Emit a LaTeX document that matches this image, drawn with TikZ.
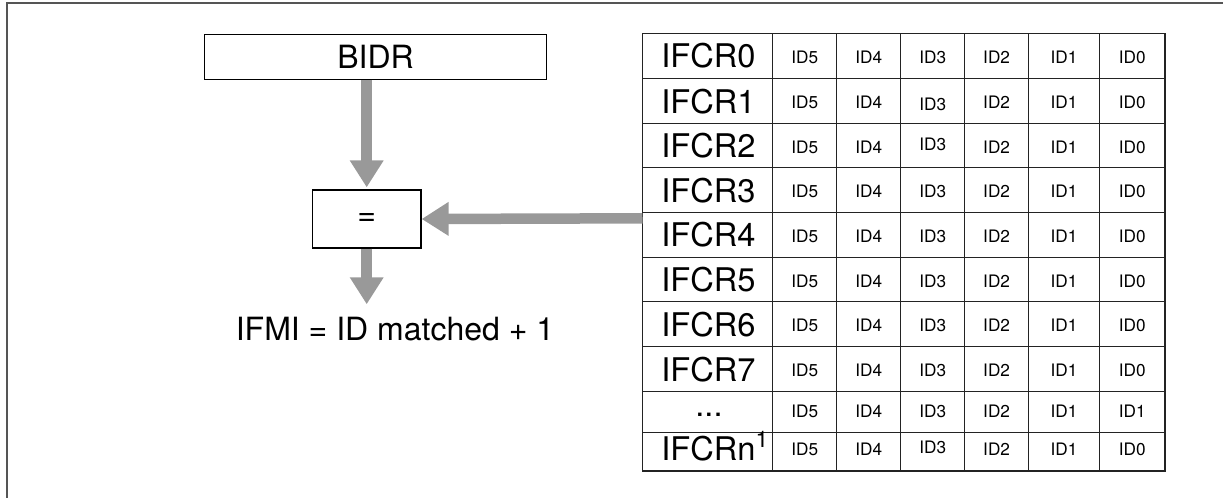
\documentclass[tikz,border=0pt]{standalone}
\usepackage{fontspec}
\setmainfont{TeX Gyre Heros}
\usetikzlibrary{arrows.meta}
\definecolor{arrowgray}{RGB}{153,153,153}
\definecolor{framegray}{RGB}{85,85,85}
\definecolor{gridc}{RGB}{35,35,35}
\tikzset{
  boxnode/.style={draw=black, line width=0.6pt, rectangle, inner sep=0pt, font=\fontsize{16pt}{19pt}\selectfont},
  bigarrow/.style={draw=arrowgray, line width=5.25pt, -{Triangle[length=13.5pt,width=16pt]}},
  gridline/.style={draw=gridc, line width=0.6pt},
  reglabel/.style={anchor=base west, inner sep=0pt, font=\fontsize{16.3pt}{19pt}\selectfont},
  idtext/.style={anchor=base, inner sep=0pt, font=\fontsize{8.6pt}{10pt}\selectfont},
  restext/.style={anchor=base, inner sep=0pt, font=\fontsize{16pt}{19pt}\selectfont}
}
\begin{document}
\begin{tikzpicture}[x=0.5pt,y=-0.5pt]
\useasboundingbox (0,0) rectangle (1223,498);
% frame (top and left edges)
\draw[framegray, line width=1pt] (7,498) -- (7,3) -- (1223,3);

% left part
\node[boxnode, minimum width=171pt, minimum height=22.5pt] (bidr) at (375.5,56.8) {BIDR};
\node[boxnode, minimum width=54.3pt, minimum height=29pt] (eq) at (366.7,219) {=};
\coordinate (outtip) at (366.7,304.3);
\coordinate (tblL) at (642.5,218.3);
\node[restext] (result) at (395,340.5) {IFMI = ID matched + 1};

% table grid
\draw[gridline] (642.5,33.3) rectangle (1165,471);
\foreach \y in {78.7,123.3,167.7,212.3,257.3,301.7,346.7,391.7,432.5}
  \draw[gridline] (642.5,\y) -- (1165,\y);
\foreach \x in {772.8,836.8,900.8,964.7,1028.5,1099.5}
  \draw[gridline] (\x,33.3) -- (\x,471);

% register labels
\foreach \lab/\yc [count=\i from 0] in {IFCR0/56,IFCR1/101,IFCR2/145.5,IFCR3/190,IFCR4/234.8,IFCR5/279.5,IFCR6/324.2,IFCR7/369.2}
  \node[reglabel] (lab\i) at (661,\yc+12) {\lab};
\node[anchor=base, inner sep=0pt, font=\fontsize{16.3pt}{19pt}\selectfont] (lab8) at (709,416.7) {...};
\node[reglabel] (lab9) at (661,460) {IFCRn\textsuperscript{1}};

% ID cells
\foreach \yc/\r in {56/0,190/3,234.8/4,279.5/5,324.2/6,369.2/7} {
  \foreach \t/\xc [count=\j] in {ID5/804.8,ID4/868.8,ID3/932.75,ID2/996.6,ID1/1064,ID0/1132.25}
    \node[idtext] (id\r-\j) at (\xc,\yc+7.5) {\t};
}
% row IFCR1 (ID3 slightly lower)
\foreach \t/\xc/\dy [count=\j] in {ID5/804.8/0,ID4/868.8/0,ID3/932.75/2,ID2/996.6/0,ID1/1064/0,ID0/1132.25/0}
  \node[idtext] (id1-\j) at (\xc,101+7.5+\dy) {\t};
% row IFCR2 (ID3 slightly higher)
\foreach \t/\xc/\dy [count=\j] in {ID5/804.8/0,ID4/868.8/0,ID3/932.75/-3,ID2/996.6/0,ID1/1064/0,ID0/1132.25/0}
  \node[idtext] (id2-\j) at (\xc,145.5+7.5+\dy) {\t};
% row "..."
\foreach \t/\xc [count=\j] in {ID5/804.8,ID4/868.8,ID3/932.75,ID2/996.6,ID1/1064,ID1/1132.25}
  \node[idtext] (id8-\j) at (\xc,412.1+5.5) {\t};
% row IFCRn
\foreach \t/\xc/\dy [count=\j] in {ID5/804.8/0,ID4/868.8/0,ID3/932.75/-1.5,ID2/996.6/0,ID1/1064/0,ID0/1132.25/0}
  \node[idtext] (id9-\j) at (\xc,451.8+3.5+\dy) {\t};

% arrows
\draw[bigarrow, shorten >=1pt] (bidr.south -| eq.north) -- (eq.north);
\draw[bigarrow] (tblL) -- (eq.east);
\draw[bigarrow] (eq.south) -- (outtip);
\end{tikzpicture}
\end{document}
